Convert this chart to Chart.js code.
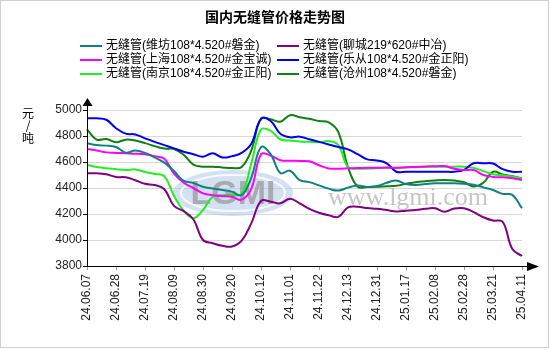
<!DOCTYPE html>
<html>
<head>
<meta charset="utf-8">
<script src="https://cdn.jsdelivr.net/npm/chart.js@4.4.1/dist/chart.umd.min.js"></script>
<style>
  html, body { margin: 0; padding: 0; background: #fff; }
  #wrap { width: 550px; height: 350px; position: relative; }
</style>
</head>
<body>
<div id="wrap"><canvas id="priceChart" width="550" height="350"></canvas></div>
<script>
// Chart data
const chartTitle = '国内无缝管价格走势图';
const yUnit = ['元', '/', '吨'];
const yMin = 3800, yMax = 5000, yStep = 200;

const dates = [
  '24.06.07', '24.06.14', '24.06.21', '24.06.28', '24.07.05', '24.07.12',
  '24.07.19', '24.07.26', '24.08.02', '24.08.09', '24.08.16', '24.08.23',
  '24.08.30', '24.09.06', '24.09.13', '24.09.20', '24.09.27', '24.10.08',
  '24.10.12', '24.10.18', '24.10.25', '24.11.01', '24.11.08', '24.11.15',
  '24.11.22', '24.11.29', '24.12.06', '24.12.13', '24.12.20', '24.12.26',
  '24.12.31', '25.01.07', '25.01.13', '25.01.17', '25.01.24', '25.02.05',
  '25.02.08', '25.02.14', '25.02.21', '25.02.28', '25.03.07', '25.03.14',
  '25.03.21', '25.03.28', '25.04.03', '25.04.11'
];

const seriesNames = [
  '无缝管(维坊108*4.520#磐金)',
  '无缝管(聊城219*620#中冶)',
  '无缝管(上海108*4.520#金宝诚)',
  '无缝管(乐从108*4.520#金正阳)',
  '无缝管(南京108*4.520#金正阳)',
  '无缝管(沧州108*4.520#磐金)'
];
const seriesColors = ['#108080', '#800080', '#ff00ff', '#0000ee', '#22ee22', '#108010'];

const weifang = [
  4744, 4730, 4726, 4715, 4672, 4688, 4670, 4635, 4595, 4530, 4455, 4438,
  4410, 4397, 4385, 4372, 4345, 4480, 4715, 4660, 4515, 4533, 4460, 4445,
  4420, 4395, 4380, 4403, 4420, 4408, 4415, 4440, 4458, 4430, 4423, 4430,
  4436, 4436, 4436, 4432, 4425, 4405, 4385, 4355, 4347, 4244
];
const liaocheng = [
  4513, 4513, 4505, 4485, 4482, 4460, 4432, 4423, 4390, 4262, 4222, 4160,
  4000, 3975, 3955, 3950, 3995, 4130, 4300, 4295, 4282, 4318, 4282, 4240,
  4210, 4190, 4178, 4251, 4256, 4246, 4240, 4230, 4220, 4225, 4231, 4240,
  4244, 4218, 4242, 4244, 4215, 4175, 4150, 4140, 3930, 3877
];
const shanghai = [
  4700, 4688, 4674, 4670, 4667, 4664, 4659, 4645, 4625, 4510, 4440, 4400,
  4359, 4345, 4337, 4333, 4310, 4395, 4660, 4650, 4614, 4610, 4608, 4605,
  4575, 4550, 4548, 4551, 4553, 4555, 4555, 4558, 4555, 4560, 4562, 4566,
  4567, 4569, 4548, 4538, 4538, 4500, 4485, 4482, 4475, 4462
];
const lecong = [
  4936, 4936, 4925, 4860, 4818, 4812, 4782, 4755, 4730, 4705, 4679, 4660,
  4641, 4667, 4635, 4645, 4670, 4740, 4930, 4915, 4818, 4790, 4795, 4775,
  4755, 4735, 4716, 4697, 4660, 4620, 4612, 4590, 4525, 4525, 4525, 4525,
  4525, 4525, 4525, 4540, 4590, 4590, 4588, 4545, 4525, 4525
];
const nanjing = [
  4577, 4562, 4552, 4545, 4538, 4543, 4523, 4508, 4490, 4340, 4225, 4168,
  4231, 4333, 4345, 4346, 4355, 4590, 4850, 4840, 4775, 4765, 4758, 4755,
  4752, 4760, 4730, 4560, 4548, 4550, 4552, 4555, 4553, 4557, 4560, 4562,
  4564, 4564, 4564, 4564, 4555, 4530, 4505, 4498, 4488, 4474
];
const cangzhou = [
  4851, 4772, 4777, 4752, 4772, 4765, 4745, 4722, 4703, 4700, 4655, 4580,
  4564, 4564, 4558, 4553, 4562, 4690, 4935, 4928, 4910, 4960, 4945, 4932,
  4915, 4905, 4830, 4560, 4410, 4408, 4410, 4413, 4418, 4432, 4445, 4452,
  4458, 4462, 4458, 4445, 4412, 4440, 4525, 4505, 4490, 4474
];

const seriesValues = [weifang, liaocheng, shanghai, lecong, nanjing, cangzhou];
const labelEvery = 3;

const latinFont = 'Arial, "Liberation Sans", "Noto Sans CJK SC", sans-serif';

// Decorations: frame, watermark, title, legend, unit label, axis arrows
const decorPlugin = {
  id: 'decor',
  beforeDraw(chart) {
    const c = chart.ctx;
    c.save();
    c.fillStyle = '#fff';
    c.fillRect(0, 0, chart.width, chart.height);
    c.strokeStyle = '#d0d0d0';
    c.lineWidth = 1;
    c.strokeRect(0.5, 0.5, chart.width - 2, chart.height - 3);
    c.restore();
  },
  beforeDatasetsDraw(chart) {
    const c = chart.ctx;
    c.save();
    // lgmi logo
    c.beginPath();
    c.ellipse(233, 193, 60, 23, 0, 0, Math.PI * 2);
    c.fillStyle = 'rgba(175, 200, 232, 0.55)';
    c.fill();
    c.beginPath();
    c.ellipse(233, 193, 52, 18, 0, 0, Math.PI * 2);
    c.strokeStyle = 'rgba(255, 255, 255, 0.8)';
    c.lineWidth = 2;
    c.stroke();
    c.font = 'bold 34px "Liberation Sans", Arial, sans-serif';
    c.textAlign = 'center';
    c.textBaseline = 'middle';
    c.fillStyle = 'rgba(150, 150, 150, 0.7)';
    c.fillText('LGMI', 233, 195);
    // site text
    c.font = '26px "Liberation Serif", "DejaVu Serif", serif';
    c.textAlign = 'left';
    c.fillStyle = 'rgba(160, 160, 160, 0.6)';
    c.fillText('www.lgmi.com', 328, 198);
    c.restore();
  },
  afterDraw(chart) {
    const c = chart.ctx;
    const area = chart.chartArea;
    c.save();

    // title
    c.fillStyle = '#000';
    c.font = 'bold 14px "Noto Sans CJK SC", sans-serif';
    c.textAlign = 'center';
    c.textBaseline = 'middle';
    c.fillText(chartTitle, 275, 17);

    // legend, two columns
    c.font = '12px ' + latinFont;
    c.textAlign = 'left';
    seriesNames.forEach((name, i) => {
      const x = i % 2 === 0 ? 80 : 277;
      const y = 46 + Math.floor(i / 2) * 14;
      c.strokeStyle = seriesColors[i];
      c.lineWidth = 2;
      c.beginPath();
      c.moveTo(x, y);
      c.lineTo(x + 22, y);
      c.stroke();
      c.fillStyle = '#000';
      c.fillText(name, x + 26, y);
    });

    // unit label, stacked
    c.font = '12px "Noto Sans CJK SC", sans-serif';
    c.textAlign = 'center';
    yUnit.forEach((ch, i) => c.fillText(ch, 28, 113 + i * 12.5));

    // axis extensions with arrows
    c.strokeStyle = '#000';
    c.fillStyle = '#000';
    c.lineWidth = 1;
    c.beginPath();
    c.moveTo(area.left + 0.5, area.bottom);
    c.lineTo(area.left + 0.5, 103);
    c.moveTo(area.right, area.bottom + 0.5);
    c.lineTo(530, area.bottom + 0.5);
    c.stroke();
    c.beginPath();
    c.moveTo(area.left + 0.5, 98);
    c.lineTo(area.left - 4.5, 106);
    c.lineTo(area.left + 5.5, 106);
    c.closePath();
    c.fill();
    c.beginPath();
    c.moveTo(539, area.bottom + 0.5);
    c.lineTo(527, area.bottom - 4);
    c.lineTo(527, area.bottom + 5);
    c.closePath();
    c.fill();
    c.restore();
  }
};

const ctx = document.getElementById('priceChart').getContext('2d');
new Chart(ctx, {
  type: 'line',
  data: {
    labels: dates,
    datasets: seriesValues.map((vals, i) => ({
      label: seriesNames[i],
      data: vals,
      borderColor: seriesColors[i],
      backgroundColor: seriesColors[i],
      borderWidth: 2,
      pointRadius: 0,
      tension: 0.4,
      fill: false
    }))
  },
  options: {
    responsive: false,
    animation: false,
    layout: { padding: { top: 110, right: 28, left: 0, bottom: 0 } },
    plugins: {
      legend: { display: false },
      title: { display: false },
      tooltip: { enabled: false }
    },
    scales: {
      x: {
        afterFit: (scale) => { scale.height = 84; },
        grid: { drawOnChartArea: false, tickLength: 4, color: '#999' },
        border: { display: true, color: '#000', width: 1 },
        ticks: {
          autoSkip: false,
          maxRotation: 90,
          minRotation: 90,
          padding: 4,
          color: '#222',
          font: { family: latinFont, size: 12 },
          callback: function (v, i) {
            return i % labelEvery === 0 ? this.getLabelForValue(v) : null;
          }
        }
      },
      y: {
        min: yMin,
        max: yMax,
        afterFit: (scale) => { scale.width = 87; },
        grid: { color: '#d8d8d8', tickColor: '#000', tickLength: 4 },
        border: { display: true, color: '#000', width: 1 },
        ticks: {
          stepSize: yStep,
          padding: 1,
          color: '#222',
          font: { family: latinFont, size: 12 },
          callback: (v) => String(v)
        }
      }
    }
  },
  plugins: [decorPlugin]
});
</script>
</body>
</html>
